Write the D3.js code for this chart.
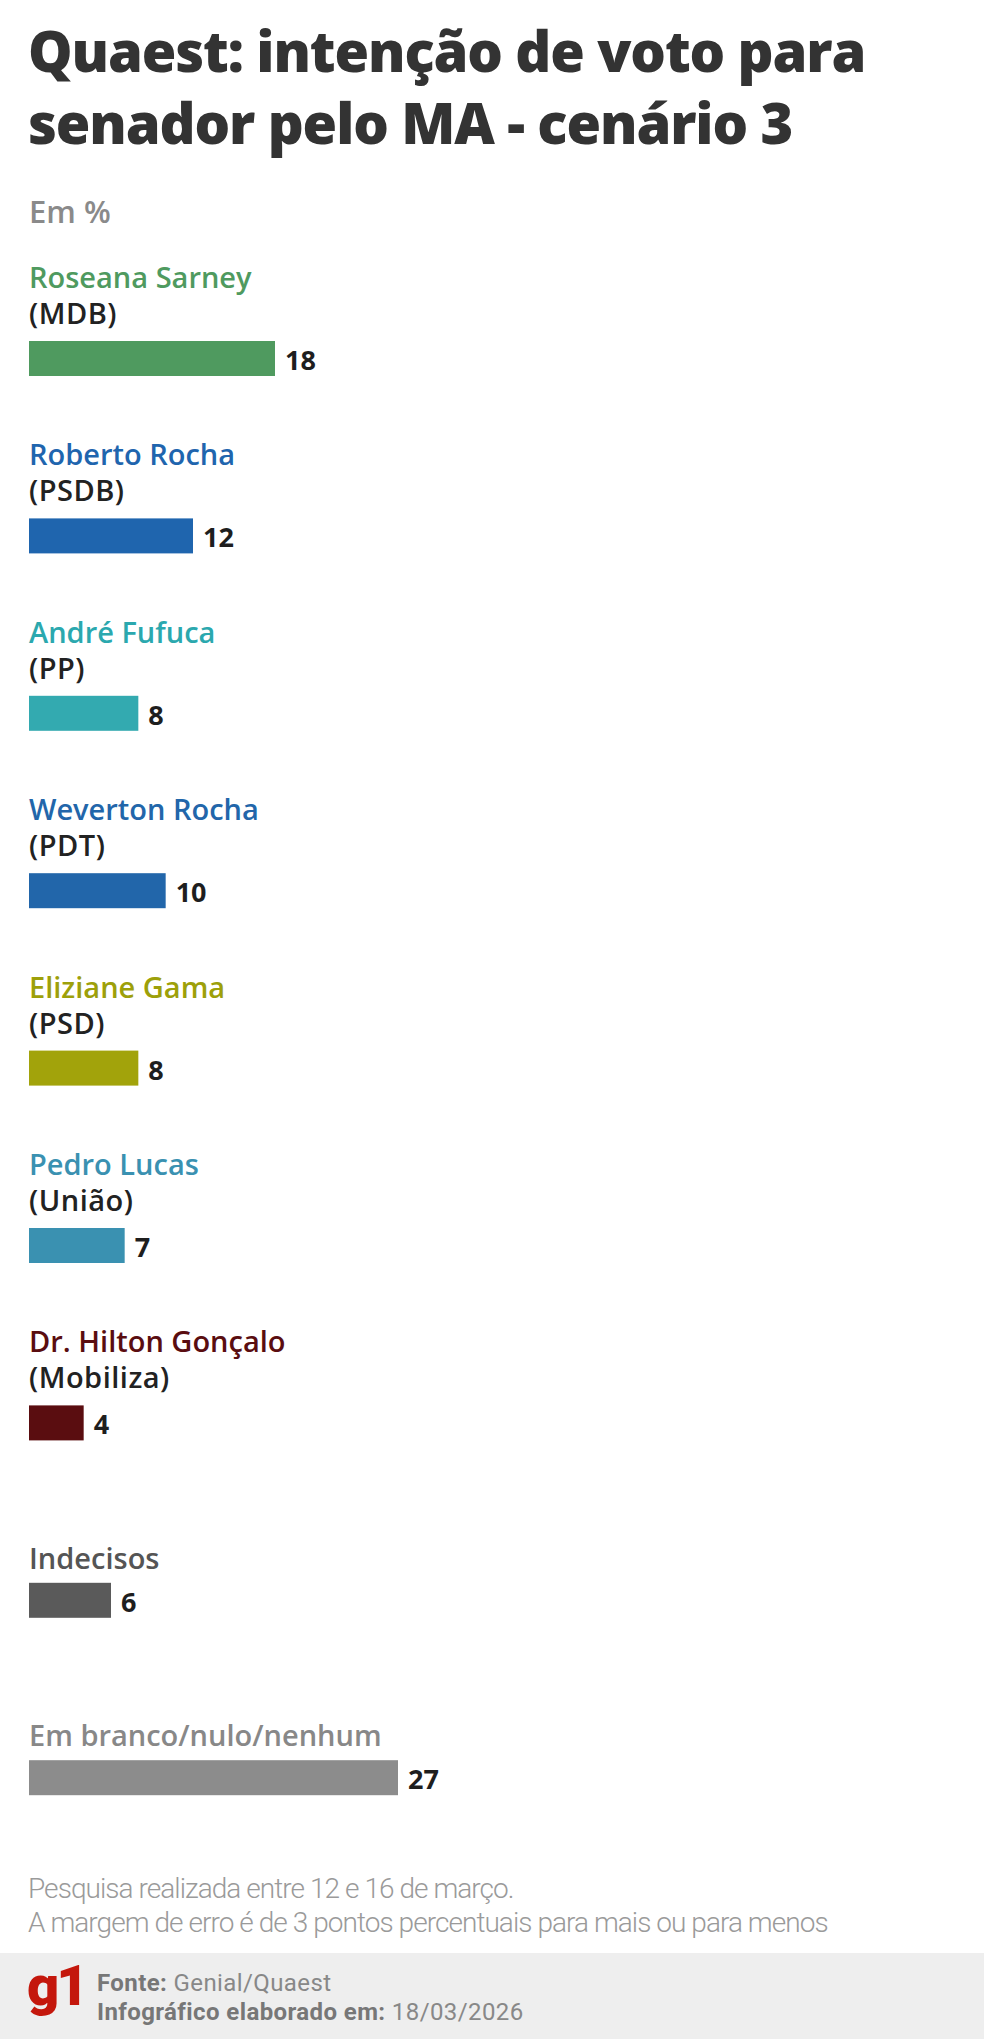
<!DOCTYPE html>
<html>
<head>
<meta charset="utf-8">
<script src="https://cdn.jsdelivr.net/npm/d3@7"></script>
<style>
  html, body { margin: 0; padding: 0; background: #fff; }
  svg { display: block; }
</style>
</head>
<body>
<div id="chart"></div>
<script>
// ---- data ----
const categories = ["Roseana Sarney", "Roberto Rocha", "André Fufuca", "Weverton Rocha", "Eliziane Gama", "Pedro Lucas", "Dr. Hilton Gonçalo", "Indecisos", "Em branco/nulo/nenhum"];
const parties = ["(MDB)", "(PSDB)", "(PP)", "(PDT)", "(PSD)", "(União)", "(Mobiliza)", "", ""];
const values = [18, 12, 8, 10, 8, 7, 4, 6, 27];
const barColors = ["#4f9a5f", "#1f65ae", "#33aab0", "#2266aa", "#a2a30b", "#3a91b1", "#5a0d10", "#5a5a5a", "#8c8c8c"];
const labelColors = ["#4f9a5f", "#1f65ae", "#2ba8ae", "#2266aa", "#9da00a", "#3a91b1", "#5a0d10", "#555555", "#888888"];
const titleLines = ["Quaest: intenção de voto para", "senador pelo MA - cenário 3"];
const subtitle = "Em %";
const notes = ["Pesquisa realizada entre 12 e 16 de março.", "A margem de erro é de 3 pontos percentuais para mais ou para menos"];
const sourceLabel = "Fonte:";
const sourceText = "Genial/Quaest";
const dateLabel = "Infográfico elaborado em:";
const dateText = "18/03/2026";

const W = 984, H = 2039;
const left = 29;

const svg = d3.select("#chart").append("svg")
  .attr("width", W).attr("height", H)
  .attr("viewBox", `0 0 ${W} ${H}`);

// title
svg.append("g").selectAll("text").data(titleLines).join("text")
  .attr("x", left - 1)
  .attr("y", (d, i) => 72 + i * 72)
  .attr("font-family", "'Open Sans', sans-serif")
  .attr("font-weight", 800)
  .attr("font-size", 56)
  .attr("letter-spacing", -1.1)
  .attr("fill", "#333333")
  .text(d => d);

svg.append("text")
  .attr("x", left).attr("y", 223)
  .attr("font-family", "'Open Sans', sans-serif")
  .attr("font-weight", 600)
  .attr("font-size", 31)
  .attr("letter-spacing", 0)
  .attr("fill", "#8a8a8a")
  .text(subtitle);

// scales
const x = d3.scaleLinear().domain([0, 27]).range([left, left + 369]);
const y = d3.scaleBand().domain(categories).range([341, 341 + 9 * 177.4]);
const barH = 35;

const rows = categories.map((c, i) => ({ name: c, party: parties[i], value: values[i], bar: barColors[i], label: labelColors[i] }));

const g = svg.append("g");
const row = g.selectAll("g.row").data(rows).join("g").attr("class", "row");

row.append("text")
  .attr("x", left)
  .attr("y", d => d.party ? y(d.name) - 53 : y(d.name) - 14)
  .attr("font-family", "'Open Sans', sans-serif")
  .attr("font-weight", 600)
  .attr("font-size", 29)
  .attr("letter-spacing", 0)
  .attr("fill", d => d.label)
  .text(d => d.name);

row.filter(d => d.party).append("text")
  .attr("x", left)
  .attr("y", d => y(d.name) - 17)
  .attr("font-family", "'Open Sans', sans-serif")
  .attr("font-weight", 600)
  .attr("font-size", 29)
  .attr("letter-spacing", 0.5)
  .attr("fill", "#222222")
  .text(d => d.party);

row.append("rect")
  .attr("x", x(0))
  .attr("y", d => y(d.name))
  .attr("width", d => x(d.value) - x(0))
  .attr("height", barH)
  .attr("fill", d => d.bar);

row.append("text")
  .attr("x", d => x(d.value) + 10)
  .attr("y", d => y(d.name) + 29)
  .attr("font-family", "'Open Sans', sans-serif")
  .attr("font-weight", 700)
  .attr("font-size", 27)
  .attr("fill", "#1e1e1e")
  .text(d => d.value);

// notes
svg.append("g").selectAll("text").data(notes).join("text")
  .attr("x", left - 1)
  .attr("y", (d, i) => 1898 + i * 34)
  .attr("font-family", "Roboto, sans-serif")
  .attr("font-weight", 300)
  .attr("font-size", 28)
  .attr("letter-spacing", -0.95)
  .attr("fill", "#9a9a9a")
  .text(d => d);

// footer
svg.append("rect").attr("x", 0).attr("y", 1953).attr("width", W).attr("height", H - 1953).attr("fill", "#eeeeee");

svg.append("text")
  .attr("x", 27).attr("y", 2005)
  .attr("font-family", "Roboto, sans-serif")
  .attr("font-weight", 900)
  .attr("font-size", 56)
  .attr("letter-spacing", -3)
  .attr("fill", "#c4170c")
  .text("g1");

const f1 = svg.append("text").attr("x", 97).attr("y", 1991)
  .attr("font-family", "Roboto, sans-serif").attr("font-size", 24).attr("letter-spacing", 0.4).attr("fill", "#777777");
f1.append("tspan").attr("font-weight", 700).text(sourceLabel);
f1.append("tspan").attr("font-weight", 400).attr("fill", "#888888").text(" " + sourceText);

const f2 = svg.append("text").attr("x", 97).attr("y", 2020)
  .attr("font-family", "Roboto, sans-serif").attr("font-size", 24).attr("letter-spacing", 0.4).attr("fill", "#777777");
f2.append("tspan").attr("font-weight", 700).text(dateLabel);
f2.append("tspan").attr("font-weight", 400).attr("fill", "#888888").text(" " + dateText);
</script>
</body>
</html>
